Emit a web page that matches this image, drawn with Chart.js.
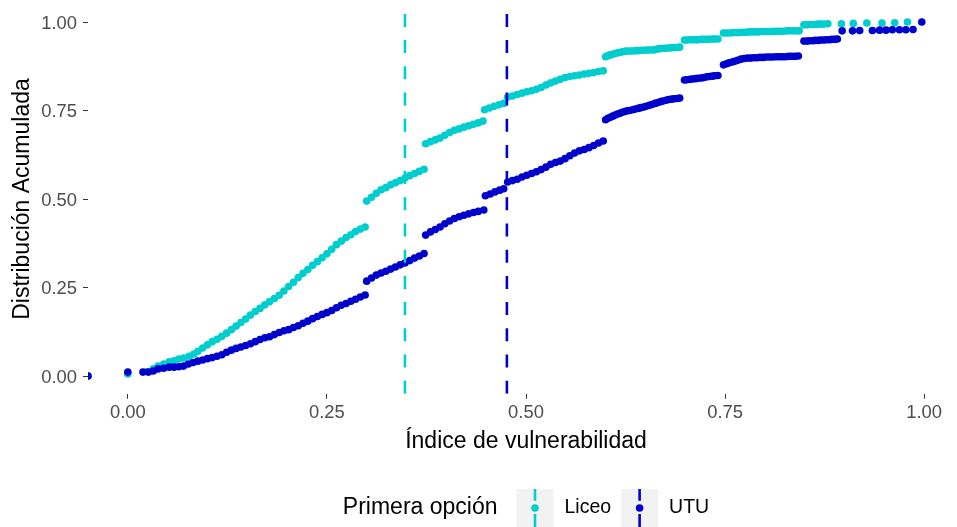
<!DOCTYPE html>
<html>
<head>
<meta charset="utf-8">
<script src="https://cdn.jsdelivr.net/npm/chart.js@4"></script>
<style>
  html, body { margin: 0; padding: 0; overflow: hidden; background: #ffffff; }
  canvas { display: block; }
</style>
</head>
<body>
<canvas id="ecdf" width="972" height="527"></canvas>
<script>
// Axis ticks
const xTicks = [0, 0.25, 0.5, 0.75, 1];
const yTicks = [0, 0.25, 0.5, 0.75, 1];

// Groups (first choice) and the mean index of each group
const groups = ['Liceo', 'UTU'];
const groupMeans = [0.348, 0.476];

// Empirical cumulative distribution, [index, cumulative share]
// (the -0.05 / 1.05 entries are the padding steps at both ends)
const liceo = [
  [-0.05, 0], [0.000, 0.006], [0.024, 0.012], [0.032, 0.020], [0.038, 0.028], [0.045, 0.034],
  [0.052, 0.040], [0.058, 0.043], [0.064, 0.048], [0.070, 0.051], [0.077, 0.056], [0.083, 0.062],
  [0.088, 0.070], [0.094, 0.079], [0.100, 0.088], [0.106, 0.097], [0.112, 0.104], [0.118, 0.112],
  [0.124, 0.121], [0.130, 0.131], [0.136, 0.141], [0.142, 0.151], [0.148, 0.161], [0.154, 0.172],
  [0.160, 0.182], [0.166, 0.191], [0.172, 0.201], [0.178, 0.210], [0.184, 0.219], [0.190, 0.228],
  [0.196, 0.240], [0.202, 0.253], [0.208, 0.265], [0.214, 0.278], [0.220, 0.290], [0.226, 0.301],
  [0.232, 0.313], [0.238, 0.323], [0.244, 0.334], [0.250, 0.345], [0.256, 0.358], [0.262, 0.371],
  [0.268, 0.381], [0.274, 0.391], [0.280, 0.399], [0.286, 0.408], [0.292, 0.415], [0.298, 0.421],
  [0.300, 0.494], [0.306, 0.505], [0.312, 0.516], [0.318, 0.526], [0.324, 0.532], [0.330, 0.540],
  [0.336, 0.546], [0.342, 0.552], [0.348, 0.559], [0.354, 0.566], [0.360, 0.572], [0.366, 0.578],
  [0.372, 0.584],
  [0.374, 0.656], [0.380, 0.662], [0.386, 0.667], [0.392, 0.672], [0.398, 0.680], [0.404, 0.688],
  [0.410, 0.694], [0.416, 0.698], [0.422, 0.703], [0.428, 0.707], [0.434, 0.711], [0.440, 0.715],
  [0.446, 0.720],
  [0.448, 0.752], [0.454, 0.757], [0.460, 0.762], [0.466, 0.766], [0.472, 0.770],
  [0.477, 0.788], [0.483, 0.791], [0.489, 0.795], [0.495, 0.799], [0.501, 0.803], [0.507, 0.806],
  [0.513, 0.810], [0.519, 0.815], [0.525, 0.822], [0.531, 0.828], [0.537, 0.833], [0.543, 0.838],
  [0.549, 0.843], [0.555, 0.846], [0.561, 0.848], [0.567, 0.850], [0.573, 0.853], [0.579, 0.855],
  [0.585, 0.857], [0.591, 0.860], [0.597, 0.862],
  [0.600, 0.902], [0.603, 0.905], [0.606, 0.907], [0.609, 0.909], [0.612, 0.911], [0.615, 0.913],
  [0.618, 0.914], [0.621, 0.916], [0.624, 0.917], [0.627, 0.918], [0.631, 0.918], [0.634, 0.918],
  [0.638, 0.919], [0.641, 0.919], [0.645, 0.920], [0.648, 0.920], [0.652, 0.921], [0.655, 0.921],
  [0.659, 0.921], [0.662, 0.922], [0.666, 0.924], [0.669, 0.925], [0.673, 0.926], [0.676, 0.926],
  [0.680, 0.927], [0.683, 0.927], [0.687, 0.928], [0.690, 0.928], [0.693, 0.929],
  [0.699, 0.949], [0.702, 0.949], [0.706, 0.950], [0.709, 0.950], [0.713, 0.950], [0.716, 0.950],
  [0.720, 0.951], [0.723, 0.951], [0.727, 0.951], [0.730, 0.951], [0.734, 0.952], [0.737, 0.952],
  [0.741, 0.952],
  [0.748, 0.969], [0.752, 0.969], [0.756, 0.969], [0.760, 0.970], [0.764, 0.970], [0.768, 0.970],
  [0.772, 0.971], [0.776, 0.971], [0.780, 0.972], [0.784, 0.972], [0.788, 0.972], [0.792, 0.972],
  [0.796, 0.973], [0.800, 0.973], [0.804, 0.973], [0.808, 0.973], [0.812, 0.974], [0.816, 0.974],
  [0.820, 0.974], [0.824, 0.974], [0.828, 0.975], [0.832, 0.975], [0.836, 0.975], [0.840, 0.975],
  [0.843, 0.975],
  [0.849, 0.992], [0.853, 0.992], [0.856, 0.993], [0.860, 0.993], [0.863, 0.993], [0.867, 0.994],
  [0.870, 0.994], [0.874, 0.994], [0.879, 0.995],
  [0.896, 0.995], [0.911, 0.996], [0.928, 0.997], [0.947, 0.997], [0.963, 0.998], [0.979, 1.000],
  [1.05, 1]
];

const utu = [
  [-0.05, 0], [0.000, 0.011], [0.019, 0.011], [0.026, 0.011], [0.032, 0.014], [0.038, 0.020],
  [0.045, 0.022], [0.052, 0.025], [0.058, 0.025], [0.064, 0.026], [0.070, 0.028], [0.076, 0.034],
  [0.082, 0.038], [0.088, 0.042], [0.094, 0.045], [0.100, 0.049], [0.106, 0.052], [0.112, 0.056],
  [0.118, 0.060], [0.124, 0.067], [0.130, 0.073], [0.136, 0.078], [0.142, 0.082], [0.148, 0.086],
  [0.154, 0.091], [0.160, 0.097], [0.166, 0.103], [0.172, 0.108], [0.178, 0.111], [0.184, 0.117],
  [0.190, 0.123], [0.196, 0.128], [0.202, 0.131], [0.208, 0.137], [0.214, 0.142], [0.220, 0.149],
  [0.226, 0.155], [0.232, 0.162], [0.238, 0.168], [0.244, 0.174], [0.250, 0.179], [0.256, 0.185],
  [0.262, 0.193], [0.268, 0.200], [0.274, 0.205], [0.280, 0.211], [0.286, 0.217], [0.292, 0.223],
  [0.298, 0.229],
  [0.300, 0.268], [0.306, 0.277], [0.312, 0.285], [0.318, 0.291], [0.324, 0.296], [0.330, 0.302],
  [0.336, 0.308], [0.342, 0.314], [0.348, 0.319], [0.354, 0.326], [0.360, 0.333], [0.366, 0.339],
  [0.372, 0.346],
  [0.374, 0.398], [0.380, 0.407], [0.386, 0.414], [0.392, 0.421], [0.398, 0.430], [0.404, 0.438],
  [0.410, 0.445], [0.416, 0.450], [0.422, 0.454], [0.428, 0.458], [0.434, 0.462], [0.440, 0.465],
  [0.447, 0.469],
  [0.449, 0.509], [0.455, 0.514], [0.461, 0.520], [0.467, 0.525], [0.472, 0.529],
  [0.477, 0.548], [0.483, 0.552], [0.489, 0.556], [0.495, 0.562], [0.501, 0.567], [0.507, 0.572],
  [0.513, 0.577], [0.519, 0.583], [0.525, 0.590], [0.531, 0.598], [0.537, 0.603], [0.543, 0.607],
  [0.549, 0.614], [0.555, 0.622], [0.561, 0.630], [0.567, 0.636], [0.573, 0.640], [0.579, 0.645],
  [0.585, 0.651], [0.591, 0.658], [0.597, 0.664],
  [0.600, 0.724], [0.603, 0.728], [0.606, 0.731], [0.609, 0.734], [0.612, 0.737], [0.615, 0.740],
  [0.618, 0.742], [0.621, 0.745], [0.624, 0.747], [0.627, 0.749], [0.630, 0.750], [0.634, 0.752],
  [0.637, 0.754], [0.641, 0.756], [0.644, 0.758], [0.648, 0.760], [0.651, 0.762], [0.655, 0.765],
  [0.658, 0.767], [0.662, 0.770], [0.665, 0.772], [0.669, 0.775], [0.672, 0.777], [0.676, 0.779],
  [0.679, 0.781], [0.683, 0.782], [0.686, 0.783], [0.690, 0.784], [0.693, 0.785],
  [0.699, 0.836], [0.702, 0.837], [0.706, 0.838], [0.709, 0.839], [0.713, 0.840], [0.716, 0.841],
  [0.720, 0.842], [0.723, 0.843], [0.727, 0.845], [0.730, 0.846], [0.734, 0.847], [0.737, 0.848],
  [0.741, 0.849],
  [0.748, 0.879], [0.752, 0.882], [0.755, 0.885], [0.759, 0.887], [0.762, 0.889], [0.766, 0.892],
  [0.770, 0.895], [0.774, 0.897], [0.778, 0.898], [0.782, 0.898], [0.786, 0.899], [0.790, 0.899],
  [0.794, 0.900], [0.798, 0.900], [0.802, 0.901], [0.806, 0.901], [0.810, 0.901], [0.814, 0.902],
  [0.818, 0.902], [0.822, 0.902], [0.826, 0.902], [0.830, 0.903], [0.834, 0.903], [0.838, 0.903],
  [0.842, 0.904],
  [0.849, 0.946], [0.853, 0.946], [0.856, 0.947], [0.860, 0.947], [0.863, 0.948], [0.867, 0.948],
  [0.870, 0.949], [0.874, 0.949], [0.877, 0.950], [0.881, 0.950], [0.884, 0.951], [0.888, 0.951],
  [0.891, 0.952],
  [0.897, 0.975], [0.910, 0.975], [0.919, 0.976], [0.935, 0.976], [0.944, 0.977], [0.952, 0.977],
  [0.960, 0.978], [0.969, 0.978], [0.977, 0.978], [0.986, 0.979], [0.997, 1.000],
  [1.05, 1]
];

const seriesData = [liceo, utu];
const colors = ['#00CDCD', '#0000CD'];

const FONT = "'Liberation Sans', Arial, Helvetica, sans-serif";
const POINT_R = 3.8;
const DASH = [13, 13.2];
Chart.defaults.font.family = FONT;

// Dashed vertical line at each group's mean, drawn over the points
const meanLines = {
  id: 'meanLines',
  afterDatasetsDraw(chart) {
    const { ctx, chartArea } = chart;
    const xs = chart.scales.x;
    ctx.save();
    ctx.beginPath();
    ctx.rect(chartArea.left, chartArea.top, chartArea.right - chartArea.left, chartArea.bottom - chartArea.top);
    ctx.clip();
    groupMeans.forEach((m, i) => {
      const px = xs.getPixelForValue(m);
      ctx.beginPath();
      ctx.setLineDash(DASH);
      ctx.lineWidth = 2.6;
      ctx.strokeStyle = colors[i];
      ctx.moveTo(px, chartArea.bottom);
      ctx.lineTo(px, chartArea.top);
      ctx.stroke();
    });
    ctx.restore();
  }
};

// Legend at the bottom, centred under the panel
const bottomLegend = {
  id: 'bottomLegend',
  afterDraw(chart) {
    const { ctx, chartArea } = chart;
    const titleFont = '23px ' + FONT;
    const labelFont = '19.5px ' + FONT;
    const keyW = 37, keyH = 38;
    const cy = 508;
    ctx.save();
    ctx.font = titleFont;
    const title = 'Primera opción';
    const tw = ctx.measureText(title).width;
    ctx.font = labelFont;
    const lw = groups.map(g => ctx.measureText(g).width);
    const gapTitle = 19, gapKey = 11, gapItem = 10;
    let total = tw + gapTitle;
    lw.forEach((w, i) => { total += keyW + gapKey + w + (i < lw.length - 1 ? gapItem : 0); });
    let x = (chartArea.left + chartArea.right) / 2 - total / 2;

    ctx.textBaseline = 'middle';
    ctx.fillStyle = '#000000';
    ctx.font = titleFont;
    ctx.fillText(title, x, cy);
    x += tw + gapTitle;

    groups.forEach((g, i) => {
      const top = cy - keyH / 2;
      ctx.fillStyle = '#F2F2F2';
      ctx.fillRect(x, top, keyW, keyH);
      const kx = x + keyW / 2;
      ctx.beginPath();
      ctx.setLineDash(DASH);
      ctx.lineWidth = 2.6;
      ctx.strokeStyle = colors[i];
      ctx.moveTo(kx, top + keyH);
      ctx.lineTo(kx, top);
      ctx.stroke();
      ctx.setLineDash([]);
      ctx.beginPath();
      ctx.fillStyle = colors[i];
      ctx.arc(kx, cy, POINT_R, 0, Math.PI * 2);
      ctx.fill();
      x += keyW + gapKey;
      ctx.fillStyle = '#000000';
      ctx.font = labelFont;
      ctx.fillText(g, x, cy);
      x += lw[i] + gapItem;
    });
    ctx.restore();
  }
};

const axisCommon = {
  type: 'linear',
  min: -0.05,
  max: 1.05,
  border: { display: false },
  grid: {
    display: true,
    drawOnChartArea: false,
    drawTicks: true,
    tickLength: 5,
    tickColor: '#333333',
    tickWidth: 1
  }
};

new Chart(document.getElementById('ecdf'), {
  type: 'scatter',
  data: {
    datasets: groups.map((g, i) => ({
      label: g,
      data: seriesData[i].map(([x, y]) => ({ x, y })),
      backgroundColor: colors[i],
      borderWidth: 0,
      pointRadius: POINT_R,
      pointHoverRadius: POINT_R,
      order: groups.length - 1 - i,
      clip: 0
    }))
  },
  options: {
    responsive: false,
    animation: false,
    events: [],
    layout: { padding: { left: 0, right: 8, top: 4.3, bottom: 71.3 } },
    plugins: { legend: { display: false }, tooltip: { enabled: false } },
    scales: {
      x: {
        ...axisCommon,
        afterBuildTicks: s => { s.ticks = xTicks.map(v => ({ value: v })); },
        afterFit: s => { s.height = 62; s.paddingLeft = 0; s.paddingRight = 0; },
        ticks: {
          callback: v => Number(v).toFixed(2),
          color: '#4D4D4D',
          font: { size: 18.4 },
          padding: 3,
          maxRotation: 0,
          autoSkip: false
        },
        title: {
          display: true,
          text: 'Índice de vulnerabilidad',
          color: '#000000',
          font: { size: 23 },
          padding: { top: 0, bottom: 0 }
        }
      },
      y: {
        ...axisCommon,
        afterBuildTicks: s => { s.ticks = yTicks.map(v => ({ value: v })); },
        afterFit: s => { s.width = 88; s.paddingTop = 0; s.paddingBottom = 0; },
        ticks: {
          callback: v => Number(v).toFixed(2),
          color: '#4D4D4D',
          font: { size: 18.4 },
          padding: 6,
          labelOffset: 1.5,
          autoSkip: false
        },
        title: {
          display: true,
          text: 'Distribución Acumulada',
          color: '#000000',
          font: { size: 23 },
          padding: { top: 9, bottom: 0 }
        }
      }
    }
  },
  plugins: [meanLines, bottomLegend]
});
</script>
</body>
</html>
